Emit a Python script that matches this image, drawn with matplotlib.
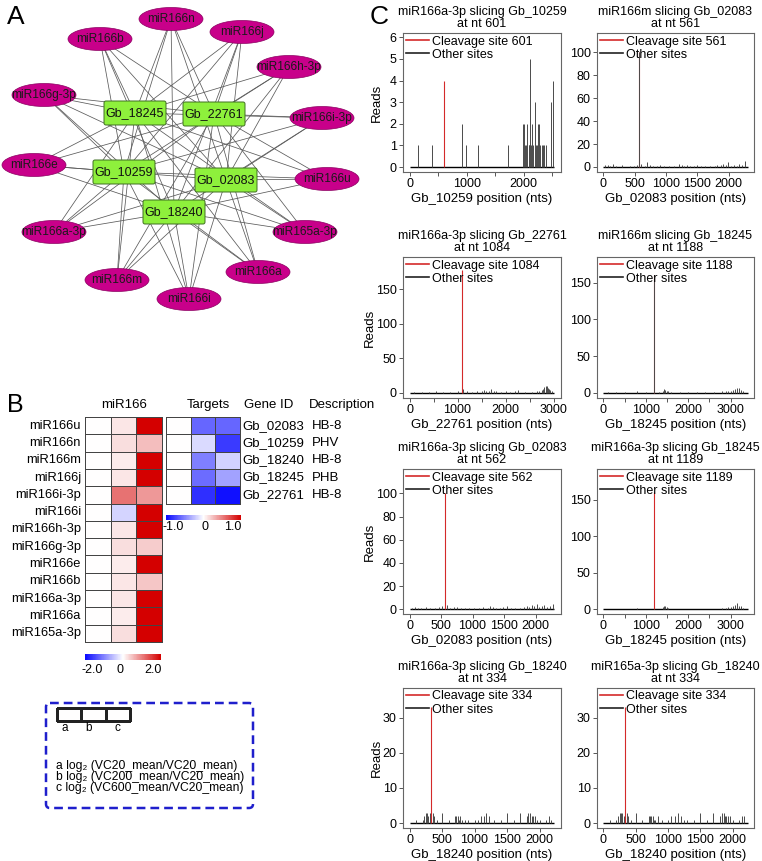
import numpy as np
import matplotlib
matplotlib.use("Agg")
import matplotlib.pyplot as plt
from matplotlib.patches import Ellipse, FancyBboxPatch
from matplotlib.colors import LinearSegmentedColormap
from matplotlib.lines import Line2D

plt.rcParams['font.family'] = ['Liberation Sans', 'DejaVu Sans']

W, H = 762, 861

# ---- panel A: network ----
mirnas = ['miR166n', 'miR166j', 'miR166b', 'miR166h-3p', 'miR166g-3p', 'miR166i-3p', 'miR166e',
          'miR166u', 'miR166a-3p', 'miR165a-3p', 'miR166m', 'miR166a', 'miR166i']
mir_x = [171, 242, 100, 289, 44, 322, 34, 327, 54, 305, 117, 258, 189]
mir_y = [19, 32, 39, 67, 95, 118, 165, 179, 232, 232, 280, 272, 299]
genes = ['Gb_18245', 'Gb_22761', 'Gb_10259', 'Gb_02083', 'Gb_18240']
gene_x = [135, 214, 124, 226, 174]
gene_y = [113, 114, 172, 180, 212]

# ---- panel B: heatmaps ----
hm_mirs = ['miR166u', 'miR166n', 'miR166m', 'miR166j', 'miR166i-3p', 'miR166i', 'miR166h-3p',
           'miR166g-3p', 'miR166e', 'miR166b', 'miR166a-3p', 'miR166a', 'miR165a-3p']
mir_a = [0.0] * 13
mir_b = [0.2, 0.25, 0.15, 0.2, 1.1, -0.35, 0.2, 0.25, 0.15, 0.2, 0.2, 0.15, 0.25]
mir_c = [2.0, 0.5, 2.0, 2.0, 0.8, 2.0, 2.0, 0.4, 2.0, 0.45, 2.0, 2.0, 2.0]
target_ids = ['Gb_02083', 'Gb_10259', 'Gb_18240', 'Gb_18245', 'Gb_22761']
target_desc = ['HB-8', 'PHV', 'HB-8', 'PHB', 'HB-8']
tgt_a = [0.0] * 5
tgt_b = [-0.62, -0.15, -0.52, -0.6, -0.85]
tgt_c = [-0.62, -0.8, -0.18, -0.38, -0.97]
legend_lines = ['a log\u2082 (VC20_mean/VC20_mean)',
                'b log\u2082 (VC200_mean/VC20_mean)',
                'c log\u2082 (VC600_mean/VC20_mean)']

# ---- panel C: degradome plots ----
titles = ['miR166a-3p slicing Gb_10259\nat nt 601', 'miR166m slicing Gb_02083\nat nt 561',
          'miR166a-3p slicing Gb_22761\nat nt 1084', 'miR166m slicing Gb_18245\nat nt 1188',
          'miR166a-3p slicing Gb_02083\nat nt 562', 'miR166a-3p slicing Gb_18245\nat nt 1189',
          'miR166a-3p slicing Gb_18240\nat nt 334', 'miR165a-3p slicing Gb_18240\nat nt 334']
gene_of_plot = ['Gb_10259', 'Gb_02083', 'Gb_22761', 'Gb_18245', 'Gb_02083', 'Gb_18245', 'Gb_18240', 'Gb_18240']
gene_len = {'Gb_10259': 2540, 'Gb_02083': 2300, 'Gb_22761': 3020, 'Gb_18245': 3400, 'Gb_18240': 2230}
cleave_pos = [601, 561, 1084, 1188, 562, 1189, 334, 334]
cleave_reads = [4, 100, 178, 160, 100, 160, 33, 33]

other1_pos = [150, 388, 925, 997, 1194, 1731, 1988, 2010, 2030, 2048, 2066, 2085, 2100, 2119, 2135,
              2150, 2165, 2191, 2210, 2228, 2245, 2269, 2290, 2315, 2340, 2365, 2390, 2478, 2507]
other1_reads = [1, 1, 2, 1, 1, 1, 2, 2, 1, 1, 2, 1, 1, 5, 1, 2, 1, 3, 1, 1, 2, 2, 1, 1, 1, 1, 1, 3, 4]
other2_pos = [30, 75, 110, 150, 200, 300, 420, 480, 530, 561, 600, 660, 700, 740, 790, 850, 900, 960,
              1050, 1130, 1200, 1250, 1290, 1330, 1380, 1440, 1500, 1560, 1620, 1700, 1780, 1820, 1870,
              1910, 1950, 1990, 2040, 2090, 2130, 2170, 2210, 2260]
other2_reads = [2, 2, 1, 3, 1, 2, 1, 1, 2, 100, 3, 1, 4, 2, 1, 1, 2, 1, 1, 1, 3, 2, 1, 2, 1, 1, 2, 1, 1,
                1, 1, 2, 2, 3, 2, 4, 1, 2, 1, 3, 2, 5]
other3_pos = [100, 250, 400, 550, 700, 850, 1000, 1110, 1200, 1300, 1400, 1500, 1550, 1600, 1650, 1700,
              1750, 1800, 1900, 2000, 2100, 2200, 2250, 2400, 2550, 2650, 2700, 2750, 2780, 2810, 2840,
              2860, 2880, 2900, 2930, 2960]
other3_reads = [1, 1, 1, 2, 1, 1, 2, 6, 2, 1, 2, 3, 4, 3, 2, 5, 3, 2, 1, 2, 1, 3, 4, 1, 1, 2, 3, 4, 6,
                8, 10, 9, 7, 6, 4, 2]
other4_pos = [100, 300, 500, 800, 1000, 1188, 1300, 1400, 1430, 1460, 1490, 1520, 1600, 1800, 2000,
              2200, 2400, 2600, 2800, 2900, 2950, 3000, 3050, 3100, 3150, 3200, 3250, 3300]
other4_reads = [1, 1, 1, 2, 1, 160, 1, 3, 5, 4, 3, 2, 1, 1, 1, 1, 1, 1, 2, 2, 3, 3, 4, 5, 7, 6, 4, 2]
other5_pos = [40, 90, 140, 190, 260, 330, 400, 470, 520, 600, 650, 700, 760, 820, 880, 950, 1030, 1100,
              1170, 1240, 1280, 1320, 1370, 1430, 1490, 1550, 1610, 1680, 1750, 1810, 1860, 1900, 1940,
              1980, 2020, 2060, 2100, 2140, 2180, 2230, 2270]
other5_reads = [1, 2, 1, 1, 2, 1, 1, 2, 3, 4, 1, 2, 2, 1, 1, 1, 1, 1, 2, 1, 3, 2, 1, 1, 2, 3, 1, 1, 1,
                2, 3, 2, 4, 3, 5, 2, 3, 4, 2, 3, 5]
other6_pos = [100, 300, 500, 800, 1000, 1300, 1400, 1430, 1460, 1490, 1520, 1600, 1800, 2000, 2200,
              2400, 2600, 2800, 2900, 2950, 3000, 3050, 3100, 3150, 3200, 3250, 3300]
other6_reads = [1, 1, 1, 2, 1, 1, 3, 5, 4, 3, 2, 1, 1, 1, 1, 1, 1, 2, 2, 3, 3, 4, 6, 8, 5, 4, 2]
other7_pos = [100, 200, 230, 250, 270, 290, 310, 360, 380, 420, 500, 600, 700, 720, 740, 760, 780, 800,
              850, 900, 1000, 1050, 1100, 1150, 1180, 1220, 1300, 1400, 1500, 1600, 1700, 1800, 1830,
              1860, 1880, 1900, 1930, 1960, 2000, 2100, 2150, 2180]
other7_reads = [1, 1, 2, 3, 3, 2, 3, 3, 2, 1, 3, 1, 2, 2, 2, 1, 2, 1, 1, 1, 1, 1, 2, 2, 3, 2, 1, 1, 3,
                1, 3, 2, 3, 3, 2, 2, 2, 1, 1, 1, 2, 1]
other8_pos = [100, 200, 230, 250, 270, 290, 310, 360, 380, 420, 500, 600, 700, 720, 740, 760, 780, 800,
              850, 900, 1000, 1050, 1100, 1150, 1200, 1250, 1300, 1400, 1500, 1600, 1700, 1800, 1830,
              1860, 1880, 1900, 1930, 1960, 2000, 2100, 2150, 2180]
other8_reads = [1, 1, 2, 3, 3, 3, 2, 3, 2, 1, 3, 1, 2, 2, 2, 2, 1, 1, 2, 1, 1, 2, 2, 3, 2, 1, 1, 1, 3,
                1, 3, 2, 3, 3, 2, 2, 2, 2, 1, 1, 2, 2]
others_pos = [other1_pos, other2_pos, other3_pos, other4_pos, other5_pos, other6_pos, other7_pos, other8_pos]
others_reads = [other1_reads, other2_reads, other3_reads, other4_reads, other5_reads, other6_reads,
                other7_reads, other8_reads]
yticks = [range(0, 7), range(0, 101, 20), range(0, 151, 50), range(0, 151, 50),
          range(0, 101, 20), range(0, 151, 50), range(0, 31, 10), range(0, 31, 10)]
ylims = [(-0.23, 6.2), (-4.4, 117), (-7.7, 197), (-7, 185), (-4, 121), (-6.4, 192), (-1.4, 38.4), (-1.4, 38.4)]

fig = plt.figure(figsize=(W / 100, H / 100), dpi=100)
ax0 = fig.add_axes([0, 0, 1, 1])
ax0.set_xlim(0, W)
ax0.set_ylim(H, 0)
ax0.axis('off')

# panel A
ax0.text(7, 17, 'A', fontsize=19, va='center', ha='left')
for mx, my in zip(mir_x, mir_y):
    for gx, gy in zip(gene_x, gene_y):
        ax0.plot([mx, gx], [my, gy], color='#5a5a5a', lw=0.55, zorder=1)
for name, mx, my in zip(mirnas, mir_x, mir_y):
    ax0.add_patch(Ellipse((mx, my), 64, 23, fc='#c8008a', ec='#8a0060', lw=0.5, zorder=2))
    ax0.text(mx, my, name, fontsize=8.6, ha='center', va='center', color='#1a1a1a', zorder=4)
for name, gx, gy in zip(genes, gene_x, gene_y):
    ax0.add_patch(FancyBboxPatch((gx - 31, gy - 12), 62, 24, boxstyle='round,pad=0,rounding_size=2',
                                 fc='#8ef03c', ec='#3f6e22', lw=0.7, zorder=3))
    ax0.text(gx, gy, name, fontsize=9, ha='center', va='center', color='#111111', zorder=4)

# panel B
cmap = LinearSegmentedColormap.from_list('bwr2', ['#0a0aff', '#ffffff', '#d40000'])
row_h = 17.3
top = 417
ax0.text(7, 405, 'B', fontsize=18, va='center', ha='left')
ax0.text(124, 405, 'miR166', fontsize=9.5, ha='center', va='center')
ax0.text(208, 405, 'Targets', fontsize=9.5, ha='center', va='center')
ax0.text(269, 405, 'Gene ID', fontsize=9.5, ha='center', va='center')
ax0.text(342, 405, 'Description', fontsize=9.5, ha='center', va='center')

mir_mat = np.column_stack([mir_a, mir_b, mir_c])
xe = np.linspace(85, 162, 4)
ye = top + row_h * np.arange(len(hm_mirs) + 1)
ax0.pcolormesh(xe, ye, mir_mat, cmap=cmap, vmin=-2, vmax=2, edgecolors='#444444', linewidth=0.7)
for i, name in enumerate(hm_mirs):
    ax0.text(81, top + row_h * (i + 0.5), name, fontsize=9.3, ha='right', va='center')

tgt_mat = np.column_stack([tgt_a, tgt_b, tgt_c])
xe2 = np.linspace(166, 240, 4)
ye2 = top + row_h * np.arange(len(target_ids) + 1)
ax0.pcolormesh(xe2, ye2, tgt_mat, cmap=cmap, vmin=-1, vmax=1, edgecolors='#444444', linewidth=0.7)
for i, (gid, desc) in enumerate(zip(target_ids, target_desc)):
    yy = top + row_h * (i + 0.5)
    ax0.text(242, yy, gid, fontsize=9.5, ha='left', va='center')
    ax0.text(312, yy, desc, fontsize=9.5, ha='left', va='center')

# colour bars
grad = np.linspace(-1, 1, 200)[None, :]
ax0.pcolormesh(np.linspace(166, 241, 201), [515, 520], grad, cmap=cmap, vmin=-1, vmax=1)
for lab, x in zip(['-1.0', '0', '1.0'], [173, 205, 233]):
    ax0.text(x, 527, lab, fontsize=9, ha='center', va='center')
grad2 = np.linspace(-2, 2, 200)[None, :]
ax0.pcolormesh(np.linspace(85, 161, 201), [654, 660], grad2, cmap=cmap, vmin=-2, vmax=2)
for lab, x in zip(['-2.0', '0', '2.0'], [92, 120, 153]):
    ax0.text(x, 670, lab, fontsize=9, ha='center', va='center')

# legend box
ax0.add_patch(FancyBboxPatch((46, 703), 207, 105, boxstyle='round,pad=0,rounding_size=4',
                             fc='none', ec='#1f1fcc', lw=1.8, ls=(0, (3.5, 2))))
ax0.pcolormesh(np.linspace(57, 130, 4), [708, 721], np.zeros((1, 3)), cmap=cmap, vmin=-1, vmax=1,
               edgecolors='#222222', linewidth=0.8)
for lab, x in zip(['a', 'b', 'c'], [65, 89, 117]):
    ax0.text(x, 728, lab, fontsize=8.5, ha='center', va='center')
for i, s in enumerate(legend_lines):
    ax0.text(56, 766 + 11 * i, s, fontsize=8.7, ha='left', va='center')

ax0.text(370, 17, 'C', fontsize=19, va='center', ha='left')

# panel C
cols = [(403, 561), (597, 754)]
rows = [(33, 172), (257, 398), (469, 614), (688, 828)]
for k in range(8):
    r, c = divmod(k, 2)
    l, rr = cols[c]
    t, b = rows[r]
    ax = fig.add_axes([l / W, 1 - b / H, (rr - l) / W, (b - t) / H])
    g = gene_of_plot[k]
    L = gene_len[g]
    ax.hlines(0, 0, L, color='black', lw=1.0, zorder=2)
    ax.vlines([cleave_pos[k]], 0, [cleave_reads[k]], color='#d42a2a', lw=0.8, zorder=3)
    ax.vlines(others_pos[k], 0, others_reads[k], color='#4a4a4a', lw=0.7, zorder=4)
    ax.set_xlim(-0.045 * L, 1.045 * L)
    ax.set_ylim(*ylims[k])
    ax.set_yticks(list(yticks[k]))
    if L > 2450:
        ax.set_xticks(range(0, L + 1, 1000))
        ax.set_xticks(range(500, L + 1, 1000), minor=True)
    else:
        ax.set_xticks(range(0, L + 1, 500))
    ax.tick_params(axis='both', labelsize=9, length=3, width=0.7, color='#555555', pad=1.5)
    ax.tick_params(axis='x', which='minor', length=3, width=0.7, color='#555555')
    for sp in ax.spines.values():
        sp.set_color('#666666')
        sp.set_linewidth(0.8)
    ax.set_title(titles[k], fontsize=9, pad=4, linespacing=1.05)
    ax.set_xlabel(g + ' position (nts)', fontsize=9.5, labelpad=2)
    if c == 0:
        ax.set_ylabel('Reads', fontsize=9.5)
        ax.yaxis.set_label_coords(-0.13 if r in (0, 3) else -0.17, 0.5)
    handles = [Line2D([], [], color='#d42a2a', lw=1.2), Line2D([], [], color='#222222', lw=1.2)]
    ax.legend(handles, ['Cleavage site %d' % cleave_pos[k], 'Other sites'], loc='upper left',
              bbox_to_anchor=(0, 1), borderaxespad=0.1, borderpad=0.1, frameon=False, fontsize=9,
              handlelength=1.9, handletextpad=0.2, labelspacing=0.1)

fig.savefig('out.png', dpi=100)
